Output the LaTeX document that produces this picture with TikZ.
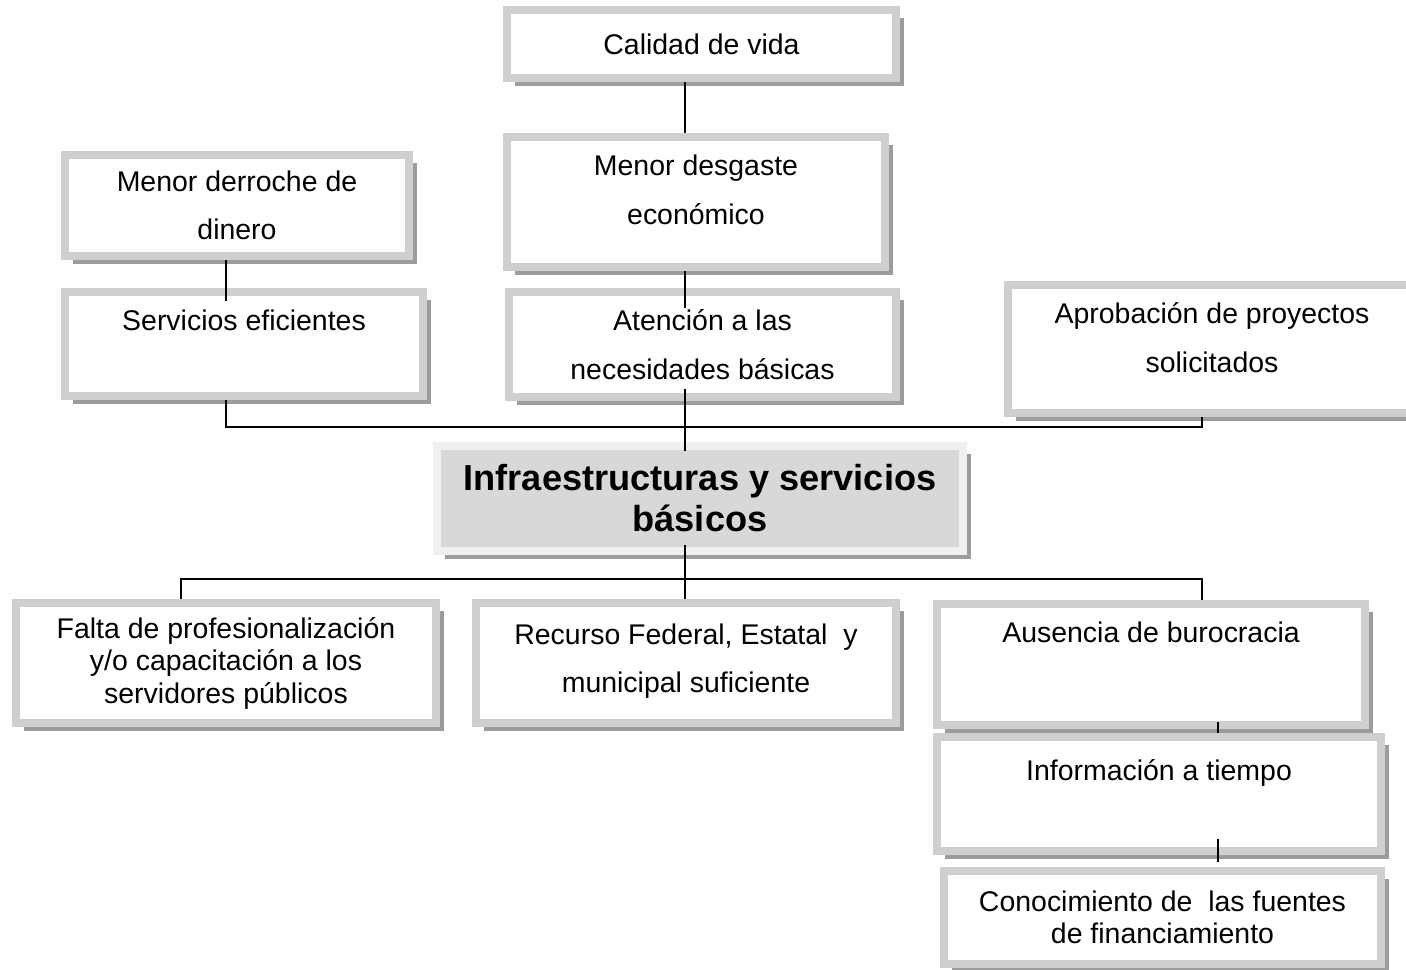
\documentclass[tikz,border=0pt]{standalone}
\usepackage{fontspec}
\setmainfont{Liberation Sans}
\usepackage{xcolor}
\usetikzlibrary{shadows, positioning}

\definecolor{borde}{HTML}{CFCFCF}
\definecolor{bordeclaro}{HTML}{F0F0F0}
\definecolor{relleno}{HTML}{D8D8D8}
\definecolor{sombra}{HTML}{9C9C9C}
\newcommand{\px}{0.02cm}

\tikzstyle{caja} = [draw=borde, line width=0.16cm, fill=white,
    rectangle, inner sep=0pt, align=center,
    drop shadow={shadow xshift=0.16cm, shadow yshift=-0.16cm, fill=sombra, opacity=1}]
\tikzstyle{doble} = [font=\fontsize{16.2}{27.6}\selectfont]
\tikzstyle{simple} = [font=\fontsize{16.2}{18.5}\selectfont]
\tikzstyle{cajacentral} = [caja, draw=bordeclaro, fill=relleno,
    font=\bfseries\fontsize{20.6}{23.3}\selectfont]
\tikzstyle{conector} = [draw=black, line width=1pt]

\begin{document}
\begin{tikzpicture}[x=0.02cm, y=-0.02cm]
    \useasboundingbox (0,0) rectangle (1406,970);
    % cajas superiores
    \node[caja, doble, minimum width=389*\px, minimum height=68*\px] (calidad) at (701.5,44) {Calidad de vida};
    \node[caja, doble, minimum width=378*\px, minimum height=130*\px] (desgaste) at (696,202) {Menor desgaste\\ económico\rule[-0.5cm]{0pt}{0pt}};
    \node[caja, doble, minimum width=344*\px, minimum height=101*\px] (derroche) at (237,205.5) {Menor derroche de\\ dinero};
    \node[caja, doble, minimum width=358*\px, minimum height=104*\px] (servicios) at (244,344) {Servicios eficientes\\ \mbox{}};
    \node[caja, doble, minimum width=387*\px, minimum height=105*\px] (atencion) at (702.5,344.5) {Atención a las\\ necesidades básicas};
    \node[caja, doble, minimum width=408*\px, minimum height=128*\px] (aprobacion) at (1212,349) {Aprobación de proyectos\\ solicitados\rule[-0.45cm]{0pt}{0pt}};
    % problema central
    \node[cajacentral, minimum width=526*\px, minimum height=105*\px] (central) at (700,498.5) {Infraestructuras y servicios\\ básicos};
    % cajas inferiores
    \node[caja, simple, minimum width=420*\px, minimum height=120*\px] (falta) at (226,663) {Falta de profesionalización\\ y/o capacitación a los\\ servidores públicos};
    \node[caja, doble, minimum width=420*\px, minimum height=120*\px] (recurso) at (686,663) {Recurso Federal, Estatal\ \ y\\ municipal suficiente\rule[-0.2cm]{0pt}{0pt}};
    \node[caja, simple, minimum width=428*\px, minimum height=121*\px] (ausencia) at (1151,664.5) {Ausencia de burocracia\\ \mbox{}\\ \mbox{}};
    \node[caja, doble, minimum width=444*\px, minimum height=114*\px] (informacion) at (1159,794) {Información a tiempo\\ \mbox{}};
    \node[caja, simple, minimum width=437*\px, minimum height=93*\px] (conocimiento) at (1162.5,917.5) {Conocimiento de\ \ las fuentes\\ de financiamiento};

    % ejes de las lineas
    \coordinate (eje) at (685,0);
    \coordinate (ejeizq) at (226,0);
    \coordinate (izq) at (181,0);
    \coordinate (der) at (1202,0);
    \coordinate (der2) at (1218,0);

    \draw[conector] (calidad.south -| eje) -- (desgaste.north -| eje);
    \draw[conector, shorten >=-0.4cm] (desgaste.south -| eje) -- (atencion.north -| eje);
    \draw[conector, shorten <=-0.24cm, shorten >=-0.18cm] (atencion.south -| eje) -- (central.north -| eje);
    \draw[conector, shorten <=-0.2cm] (central.south -| eje) -- (recurso.north -| eje);
    \draw[conector, shorten >=-0.26cm] (derroche.south -| ejeizq) -- (servicios.north -| ejeizq);
    \draw[conector] (servicios.south -| ejeizq) -- ++(0,27) -| (aprobacion.south -| der);
    \draw[conector] (falta.north -| izq) -- ++(0,-20) -| (ausencia.north -| der);
    \draw[conector, shorten <=-0.14cm] (ausencia.south -| der2) -- (informacion.north -| der2);
    \draw[conector, shorten <=-0.32cm, shorten >=0.1cm] (informacion.south -| der2) -- (conocimiento.north -| der2);
\end{tikzpicture}
\end{document}
